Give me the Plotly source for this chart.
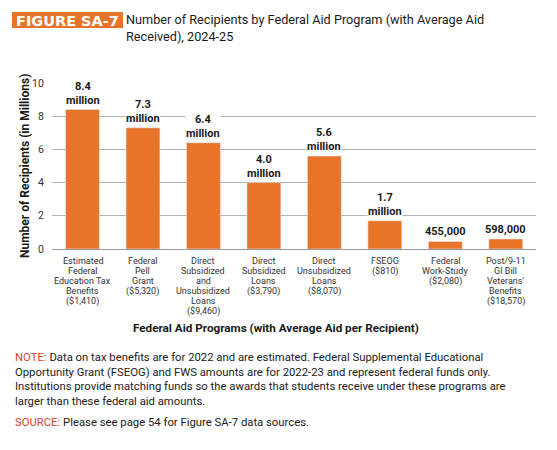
import plotly.graph_objects as go

# Data
programs = [
    "Estimated<br>Federal<br>Education Tax<br>Benefits<br>($1,410)",
    "Federal<br>Pell<br>Grant<br>($5,320)",
    "Direct<br>Subsidized<br>and<br>Unsubsidized<br>Loans<br>($9,460)",
    "Direct<br>Subsidized<br>Loans<br>($3,790)",
    "Direct<br>Unsubsidized<br>Loans<br>($8,070)",
    "FSEOG<br>($810)",
    "Federal<br>Work-Study<br>($2,080)",
    "Post/9-11<br>GI Bill<br>Veterans'<br>Benefits<br>($18,570)",
]
recipients = [8.4, 7.3, 6.4, 4.0, 5.6, 1.7, 0.455, 0.598]  # millions
value_labels = ["8.4<br>million", "7.3<br>million", "6.4<br>million", "4.0<br>million",
                "5.6<br>million", "1.7<br>million", "455,000", "598,000"]

ORANGE = "#E8742A"
RED = "#D9452B"
FONT = "Roboto, Arial, sans-serif"

# plot area in pixels (used to place paper-referenced text)
L, R, T, B = 52, 21, 83, 201
PW, PH = 557 - L - R, 450 - T - B


def px(x):
    return (x - L) / PW


def py(y):
    return (450 - B - y) / PH


fig = go.Figure(go.Bar(
    x=programs,
    y=recipients,
    marker_color=ORANGE,
    hoverinfo="skip",
))

# value labels above the bars, white background so gridlines break behind them
for p, v, lab in zip(programs, recipients, value_labels):
    fig.add_annotation(
        x=p, y=v, text="<b>" + lab + "</b>", showarrow=False,
        yanchor="bottom", yshift=2, bgcolor="white", borderpad=0,
        font=dict(family=FONT, size=11, color="#1a1a1a"),
    )

# category labels, one line at a time for the tight 10px leading of the original
for p in programs:
    for i, line in enumerate(p.split("<br>")):
        fig.add_annotation(
            x=p, y=0, text=line, showarrow=False, yanchor="middle", yshift=-12 - 10 * i,
            font=dict(family=FONT, size=9, color="#333"),
        )

fig.update_layout(
    width=557, height=450,
    margin=dict(l=L, r=R, t=T, b=B),
    paper_bgcolor="white", plot_bgcolor="white",
    bargap=0.44,
    showlegend=False,
    font=dict(family=FONT, color="#222"),
    xaxis=dict(
        showticklabels=False,
        showgrid=False, showline=True, linecolor="#999", linewidth=1,
        ticks="", automargin=False,
    ),
    yaxis=dict(
        range=[0, 10], dtick=2, showgrid=True, gridcolor="#B3B3B3", gridwidth=1,
        zeroline=False, showline=False, automargin=False,
        tickfont=dict(family=FONT, size=10.5, color="#333"),
        ticks="outside", ticklen=5, tickcolor="white",
    ),
)

# figure badge and title
fig.add_shape(type="rect", xref="paper", yref="paper",
              x0=px(12), x1=px(123), y0=py(28), y1=py(12),
              fillcolor=ORANGE, line_width=0, layer="above")
fig.add_annotation(
    xref="paper", yref="paper", x=px(67.5), y=py(20.5), xanchor="center", yanchor="middle",
    text="<b>FIGURE SA-7</b>", showarrow=False,
    font=dict(family="DejaVu Sans, Arial", size=14.5, color="white"),
)
fig.add_annotation(
    xref="paper", yref="paper", x=px(124), y=py(10), xanchor="left", yanchor="top",
    text="Number of Recipients by Federal Aid Program (with Average Aid<br>Received), 2024-25",
    showarrow=False, align="left",
    font=dict(family=FONT, size=12.7, color="#1a1a1a"),
)

# axis titles
fig.add_annotation(
    xref="paper", yref="paper", x=px(16), y=py(166), textangle=-90,
    text="<b>Number of Recipients (in Millions)</b>", showarrow=False,
    font=dict(family=FONT, size=12, color="#1a1a1a"),
)
fig.add_annotation(
    xref="paper", yref="paper", x=px(276), y=py(328), yanchor="middle",
    text="<b>Federal Aid Programs (with Average Aid per Recipient)</b>", showarrow=False,
    font=dict(family=FONT, size=11.7, color="#1a1a1a"),
)

# note and source
note = ("<span style='color:%s'>NOTE:</span> Data on tax benefits are for 2022 and are estimated. "
        "Federal Supplemental Educational<br>Opportunity Grant (FSEOG) and FWS amounts are for 2022-23 "
        "and represent federal funds only.<br>Institutions provide matching funds so the awards that "
        "students receive under these programs are<br>larger than these federal aid amounts.") % RED
fig.add_annotation(
    xref="paper", yref="paper", x=px(13), y=py(349), xanchor="left", yanchor="top",
    text=note, showarrow=False, align="left",
    font=dict(family=FONT, size=11.3, color="#1a1a1a"),
)
fig.add_annotation(
    xref="paper", yref="paper", x=px(13), y=py(423), xanchor="left", yanchor="middle",
    text="<span style='color:%s'>SOURCE:</span> Please see page 54 for Figure SA-7 data sources." % RED,
    showarrow=False, align="left",
    font=dict(family=FONT, size=11.3, color="#1a1a1a"),
)

# drop the browser's default body margin so the figure sits at the page corner
fig.write_html("out.html", config={"displayModeBar": False},
               post_script="document.body.style.margin='0px';")
